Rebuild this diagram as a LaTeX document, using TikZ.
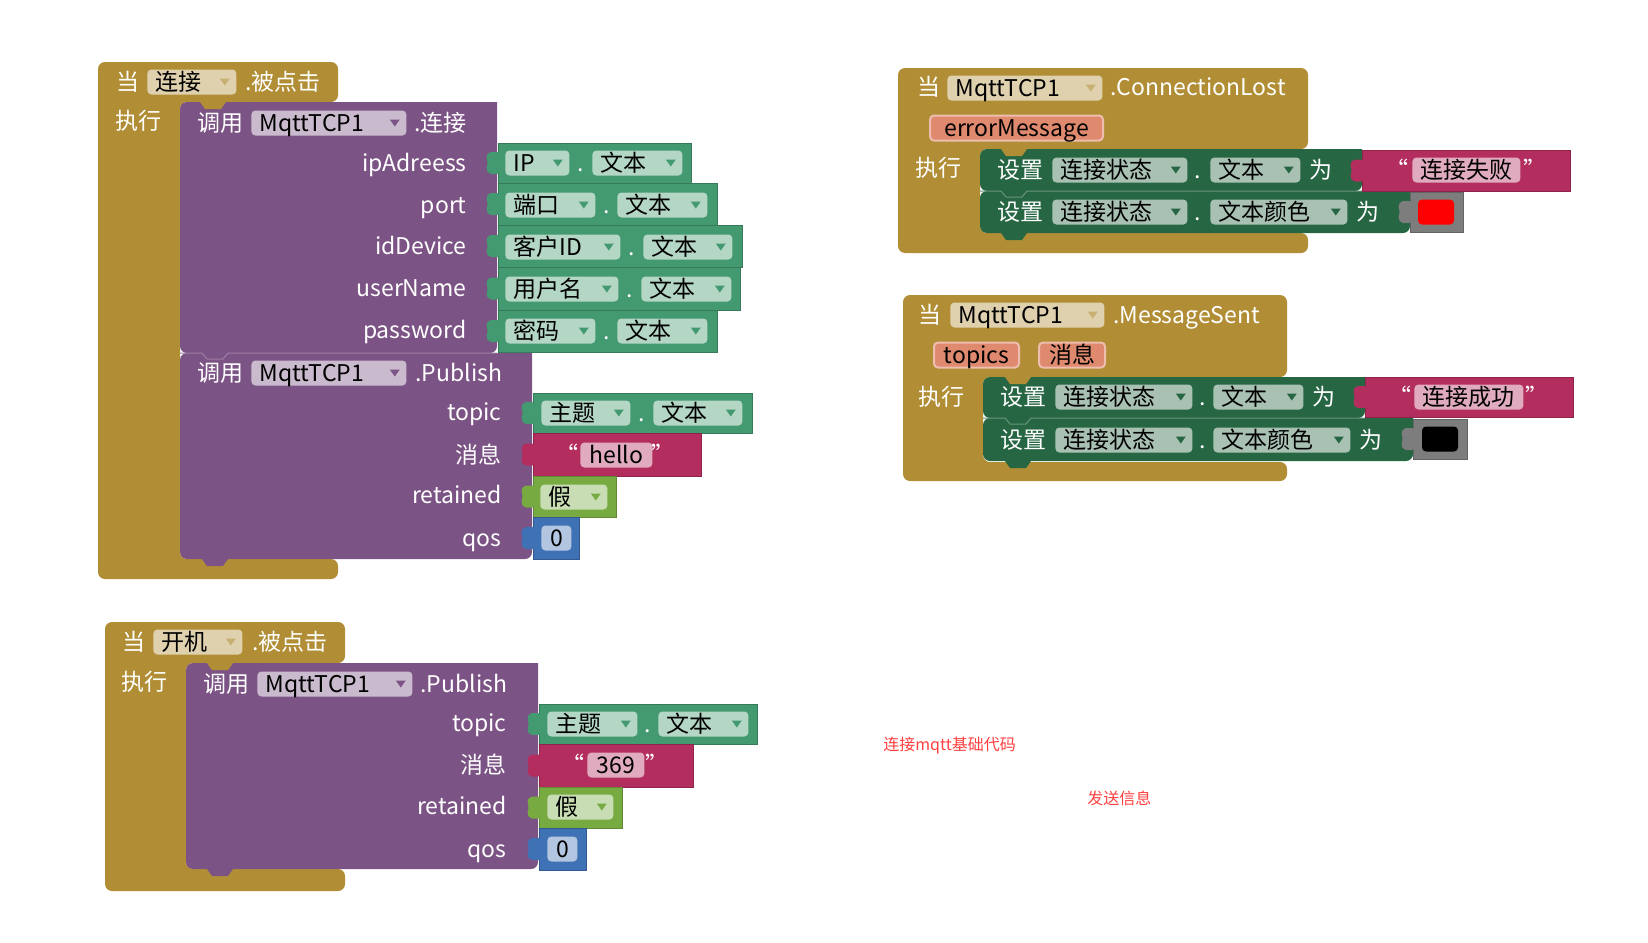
\documentclass[tikz,border=0pt]{standalone}
\usepackage{fontspec}
\usepackage{tikz}
\newfontfamily\cjk{Noto Sans CJK SC}
\definecolor{evtGold}{RGB}{177,142,53}
\definecolor{callPurple}{RGB}{124,83,133}
\definecolor{getGreen}{RGB}{67,153,112}
\definecolor{setGreen}{RGB}{38,102,67}
\definecolor{txtRed}{RGB}{179,45,94}
\definecolor{boolGreen}{RGB}{119,171,65}
\definecolor{numBlue}{RGB}{63,113,181}
\definecolor{colGray}{RGB}{125,125,125}
\definecolor{paramSalmon}{RGB}{223,137,110}
\definecolor{noteRed}{RGB}{255,64,64}
\newdimen\pxu \pxu=0.5pt
% value block: colour, left, top, right, bottom
\newcommand\vblock[5]{%
  \pgfmathsetmacro\vc{(#3+#5)/2}%
  \fill[#1,draw=#1!80!black,line width=0.5pt] (#2,#3) rectangle (#4,#5);
  \fill[#1,rounded corners=2\pxu] ({#2+1},{\vc-11}) -- ({#2-9},{\vc-11}) -- ({#2-12},{\vc-6}) -- ({#2-10},\vc) -- ({#2-12},{\vc+6}) -- ({#2-9},{\vc+11}) -- ({#2+1},{\vc+11}) -- cycle;}
% statement block: colour, left, top, right, bottom
\newcommand\sblock[5]{%
  \fill[#1] (#4,#3) [rounded corners=7\pxu] -- (#2,#3) -- (#2,#5) -- (#4,#5) [sharp corners] -- cycle;}
% notch tab: colour, x, y
\newcommand\notch[3]{\fill[#1] (#2,#3) -- ({#2+5},{#3+7}) -- ({#2+21},{#3+7}) -- ({#2+26},#3) -- cycle;}
% dropdown: name, x, y, width, text, arrow colour
\newcommand\ddown[6]{%
  \node[fld,anchor=west] (#1) at (#2,#3) {\makebox[#4\pxu][l]{\hspace{8\pxu}#5}};
  \fill[#6] ([xshift=-17\pxu,yshift=3.5\pxu]#1.east) -- ++(10,0) -- ++(-5,7) -- cycle;}
% text field: name, x, y, width, text
\newcommand\tfield[5]{\node[fld,anchor=west] (#1) at (#2,#3) {\makebox[#4\pxu]{#5}};}
\begin{document}
\begin{tikzpicture}[x=0.5pt,y=-0.5pt,
    lbl/.style={text=white,font=\cjk\fontsize{11.5}{13}\selectfont,inner sep=0pt,text height=10.4pt,text depth=2pt},
    fld/.style={fill=white,fill opacity=0.6,text opacity=1,text=black,rounded corners=4\pxu,inner sep=0pt,minimum height=25\pxu,font=\cjk\fontsize{11.5}{13}\selectfont,text height=10.4pt,text depth=2pt},
    prm/.style={fld,fill=paramSalmon,fill opacity=1,draw=paramSalmon!55!white,line width=1pt},
    swatch/.style={rounded corners=4\pxu,minimum width=36\pxu,minimum height=25\pxu,inner sep=0pt},
    note/.style={text=noteRed,font=\cjk\fontsize{8}{10}\selectfont,inner sep=0pt,anchor=west}
  ]
  \fill[white] (0,0) rectangle (1648,942);
  \useasboundingbox (0,0) rectangle (1648,942);

  % when 连接 clicked
  \fill[evtGold,rounded corners=7\pxu] (98,62) -- (338,62) -- (338,102) -- (180,102) -- (180,559) -- (338,559) -- (338,579) -- (98,579) -- cycle;
  \node[lbl,anchor=west] (ev1when) at (116,82) {当};
  \ddown{ev1btn}{147}{82}{89}{连接}{evtGold!70!white}
  \node[lbl,anchor=west] (ev1click) at (245,82) {.被点击};
  \node[lbl,anchor=west] (ev1do) at (115,121) {执行};
  \sblock{callPurple}{180}{102}{497}{353}
  \sblock{callPurple}{180}{353}{532}{559}
  \draw[callPurple!75!white,line width=0.5pt] (180,353) -- (202,353) -- (207,359) -- (223,359) -- (228,353) -- (497,353);
  \notch{callPurple}{202}{559}
  \notch{evtGold}{200}{102}
  \node[lbl,anchor=west] (conCall) at (197,123) {调用};
  \ddown{conComp}{251}{123}{155}{MqttTCP1}{callPurple}
  \node[lbl,anchor=west] (conMethod) at (414,123) {.连接};
  \node[lbl,anchor=east] (argIp) at (467,163) {ipAdreess};
  \node[lbl,anchor=east] (argPort) at (467,205) {port};
  \node[lbl,anchor=east] (argId) at (467,246) {idDevice};
  \node[lbl,anchor=east] (argUser) at (467,288) {userName};
  \node[lbl,anchor=east] (argPass) at (467,330) {password};
  \vblock{getGreen}{498}{143}{691}{183}
  \ddown{ipBox}{505}{163}{64}{IP}{getGreen}
  \node[lbl] (ipDot) at (581,163) {.};
  \ddown{ipText}{592}{163}{90}{文本}{getGreen}
  \vblock{getGreen}{498}{183}{717}{225}
  \ddown{portBox}{505}{205}{90}{端口}{getGreen}
  \node[lbl] (portDot) at (607,205) {.};
  \ddown{portText}{617}{205}{90}{文本}{getGreen}
  \vblock{getGreen}{498}{225}{742}{267}
  \ddown{idBox}{505}{247}{115}{客户ID}{getGreen}
  \node[lbl] (idDot) at (632,247) {.};
  \ddown{idText}{643}{247}{89}{文本}{getGreen}
  \vblock{getGreen}{498}{267}{740}{310}
  \ddown{userBox}{505}{289}{113}{用户名}{getGreen}
  \node[lbl] (userDot) at (630,289) {.};
  \ddown{userText}{641}{289}{90}{文本}{getGreen}
  \vblock{getGreen}{498}{310}{717}{352}
  \ddown{passBox}{505}{331}{90}{密码}{getGreen}
  \node[lbl] (passDot) at (607,331) {.};
  \ddown{passText}{617}{331}{90}{文本}{getGreen}
  \node[lbl,anchor=west] (pubCall) at (197,373) {调用};
  \ddown{pubComp}{251}{373}{155}{MqttTCP1}{callPurple}
  \node[lbl,anchor=west] (pubMethod) at (415,373) {.Publish};
  \node[lbl,anchor=east] (argTopic) at (502,412) {topic};
  \node[lbl,anchor=east] (argMsg) at (502,455) {消息};
  \node[lbl,anchor=east] (argRet) at (502,495) {retained};
  \node[lbl,anchor=east] (argQos) at (502,538) {qos};
  \vblock{getGreen}{533}{393}{752}{433}
  \ddown{topicBox}{541}{413}{89}{主题}{getGreen}
  \node[lbl] (topicDot) at (642,413) {.};
  \ddown{topicText}{653}{413}{89}{文本}{getGreen}
  \vblock{txtRed}{533}{433}{701}{476}
  \node[lbl] (helloOpen) at (567,455) {“};
  \tfield{hello}{580}{455}{72}{hello}
  \node[lbl] (helloClose) at (663,455) {”};
  \vblock{boolGreen}{533}{476}{616}{517}
  \ddown{retFalse}{540}{497}{67}{假}{boolGreen}
  \vblock{numBlue}{533}{517}{579}{559}
  \tfield{qosZero}{541}{538}{30}{0}

  % when 开机 clicked
  \fill[evtGold,rounded corners=7\pxu] (105,622) -- (345,622) -- (345,663) -- (186,663) -- (186,869) -- (345,869) -- (345,891) -- (105,891) -- cycle;
  \node[lbl,anchor=west] (ev2when) at (122,642) {当};
  \ddown{ev2btn}{153}{642}{89}{开机}{evtGold!70!white}
  \node[lbl,anchor=west] (ev2click) at (252,642) {.被点击};
  \node[lbl,anchor=west] (ev2do) at (121,682) {执行};
  \sblock{callPurple}{186}{663}{538}{869}
  \notch{callPurple}{207}{869}
  \notch{evtGold}{207}{663}
  \node[lbl,anchor=west] (bootCall) at (203,684) {调用};
  \ddown{bootComp}{257}{684}{155}{MqttTCP1}{callPurple}
  \node[lbl,anchor=west] (bootMethod) at (420,684) {.Publish};
  \node[lbl,anchor=east] (bootTopic) at (507,723) {topic};
  \node[lbl,anchor=east] (bootMsg) at (507,765) {消息};
  \node[lbl,anchor=east] (bootRet) at (507,806) {retained};
  \node[lbl,anchor=east] (bootQos) at (507,849) {qos};
  \vblock{getGreen}{539}{704}{757}{744}
  \ddown{bootTopicBox}{547}{724}{90}{主题}{getGreen}
  \node[lbl] (bootTopicDot) at (648,724) {.};
  \ddown{bootTopicText}{658}{724}{90}{文本}{getGreen}
  \vblock{txtRed}{539}{744}{693}{787}
  \node[lbl] (numOpen) at (573,765) {“};
  \tfield{bootPayload}{587}{765}{57}{369}
  \node[lbl] (numClose) at (657,765) {”};
  \vblock{boolGreen}{539}{787}{622}{828}
  \ddown{bootFalse}{547}{807}{66}{假}{boolGreen}
  \vblock{numBlue}{539}{828}{586}{870}
  \tfield{bootZero}{547}{849}{30}{0}

  % when MqttTCP1.ConnectionLost
  \fill[evtGold,rounded corners=7\pxu] (898,68) -- (1308,68) -- (1308,149) -- (980,149) -- (980,233) -- (1308,233) -- (1308,253) -- (898,253) -- cycle;
  \node[lbl,anchor=west] (lostWhen) at (917,87) {当};
  \ddown{lostComp}{947}{88}{155}{MqttTCP1}{evtGold!70!white}
  \node[lbl,anchor=west] (lostEvent) at (1110,87) {.ConnectionLost};
  \node[prm,anchor=west] (lostErr) at (929,128) {\makebox[173\pxu]{errorMessage}};
  \node[lbl,anchor=west] (lostDo) at (915,168) {执行};
  \sblock{setGreen}{980}{149}{1362}{191}
  \sblock{setGreen}{980}{191}{1410}{233}
  \draw[setGreen!70!white,line width=0.5pt] (980,191) -- (1001,191) -- (1006,197) -- (1022,197) -- (1027,191) -- (1362,191);
  \notch{setGreen}{1001}{233}
  \notch{evtGold}{1001}{149}
  \node[lbl,anchor=west] (lostSet1) at (997,170) {设置};
  \ddown{lostLabel1}{1052}{170}{135}{连接状态}{setGreen}
  \node[lbl] (lostDot1) at (1198,170) {.};
  \ddown{lostProp1}{1210}{170}{90}{文本}{setGreen}
  \node[lbl,anchor=west] (lostTo1) at (1309,170) {为};
  \vblock{txtRed}{1362}{150}{1570}{191}
  \node[lbl] (failOpen) at (1397,170) {“};
  \tfield{failText}{1412}{170}{108}{连接失败}
  \node[lbl] (failClose) at (1535,170) {”};
  \node[lbl,anchor=west] (lostSet2) at (997,212) {设置};
  \ddown{lostLabel2}{1052}{212}{135}{连接状态}{setGreen}
  \node[lbl] (lostDot2) at (1198,212) {.};
  \ddown{lostProp2}{1210}{212}{137}{文本颜色}{setGreen}
  \node[lbl,anchor=west] (lostTo2) at (1356,212) {为};
  \vblock{colGray}{1410}{192}{1463}{232}
  \node[swatch,fill=red] (lostColor) at (1436,212) {};

  % when MqttTCP1.MessageSent
  \fill[evtGold,rounded corners=7\pxu] (903,295) -- (1287,295) -- (1287,377) -- (983,377) -- (983,462) -- (1287,462) -- (1287,481) -- (903,481) -- cycle;
  \node[lbl,anchor=west] (sentWhen) at (918,315) {当};
  \ddown{sentComp}{950}{315}{154}{MqttTCP1}{evtGold!70!white}
  \node[lbl,anchor=west] (sentEvent) at (1113,315) {.MessageSent};
  \node[prm,anchor=west] (sentTopics) at (933,355) {\makebox[85\pxu]{topics}};
  \node[prm,anchor=west] (sentMsg) at (1038,355) {\makebox[66\pxu]{消息}};
  \node[lbl,anchor=west] (sentDo) at (918,397) {执行};
  \sblock{setGreen}{983}{377}{1365}{418}
  \sblock{setGreen}{983}{418}{1413}{461}
  \draw[setGreen!70!white,line width=0.5pt] (983,418) -- (1005,418) -- (1010,424) -- (1026,424) -- (1031,418) -- (1365,418);
  \notch{setGreen}{1005}{461}
  \notch{evtGold}{1005}{377}
  \node[lbl,anchor=west] (sentSet1) at (1000,397) {设置};
  \ddown{sentLabel1}{1055}{397}{137}{连接状态}{setGreen}
  \node[lbl] (sentDot1) at (1203,397) {.};
  \ddown{sentProp1}{1213}{397}{90}{文本}{setGreen}
  \node[lbl,anchor=west] (sentTo1) at (1312,397) {为};
  \vblock{txtRed}{1365}{377}{1573}{417}
  \node[lbl] (okOpen) at (1400,397) {“};
  \tfield{okText}{1414}{397}{109}{连接成功}
  \node[lbl] (okClose) at (1537,397) {”};
  \node[lbl,anchor=west] (sentSet2) at (1000,440) {设置};
  \ddown{sentLabel2}{1055}{440}{137}{连接状态}{setGreen}
  \node[lbl] (sentDot2) at (1203,440) {.};
  \ddown{sentProp2}{1213}{440}{137}{文本颜色}{setGreen}
  \node[lbl,anchor=west] (sentTo2) at (1359,440) {为};
  \vblock{colGray}{1413}{419}{1467}{459}
  \node[swatch,fill=black] (sentColor) at (1440,439) {};

  % notes
  \node[note] (noteConnect) at (883,746) {连接mqtt基础代码};
  \node[note] (noteSend) at (1087,798) {发送信息};
\end{tikzpicture}
\end{document}
